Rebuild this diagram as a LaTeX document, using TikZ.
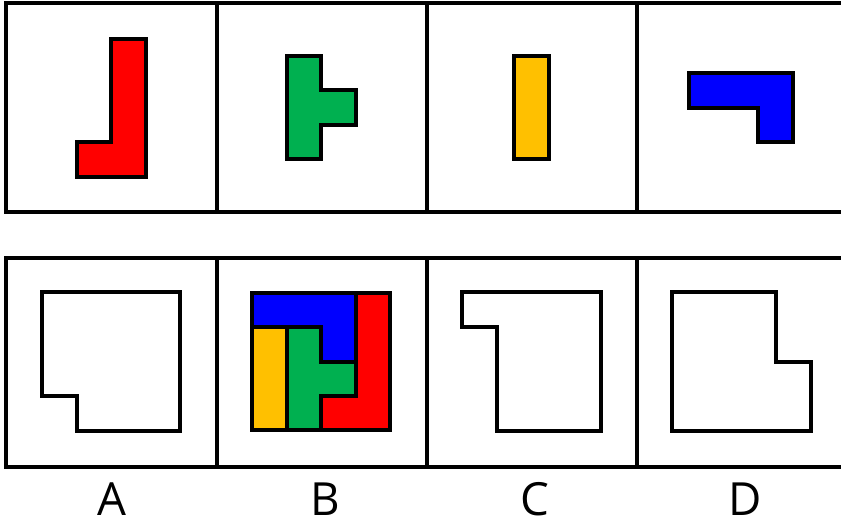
\documentclass[tikz,border=0pt]{standalone}
\usepackage{fontspec}
\setmainfont{Open Sans}
\definecolor{pcred}{RGB}{255,0,0}
\definecolor{pcgreen}{RGB}{0,176,80}
\definecolor{pcyellow}{RGB}{255,192,0}
\definecolor{pcblue}{RGB}{0,0,255}
\tikzset{
  frame/.style={line width=3pt},
  piece/.style={draw=black,line width=2.7pt,line join=miter},
  outline/.style={draw=black,line width=2.7pt,line join=miter},
  letter/.style={anchor=base,inner sep=0pt,font=\fontsize{39}{46}\selectfont}
}
\begin{document}
\begin{tikzpicture}[line cap=butt,x=0.03cm,y=-0.03cm]
	\useasboundingbox (0,0) rectangle (841,522);
	\clip (0,0) rectangle (841,522);
	\fill[white] (0,0) rectangle (841,522);
	
	% Frames
	\draw[frame] (850,3) -- (6,3) -- (6,212) -- (850,212);
	\draw[frame] (850,258) -- (6,258) -- (6,467) -- (850,467);
	\foreach \xd in {217,427,637}{
		\draw[frame] (\xd,3) -- (\xd,212);
		\draw[frame] (\xd,258) -- (\xd,467);
	}
	
	% Pieces
	\draw[piece,fill=pcred] (111,39) -- (146,39) -- (146,177) -- (77,177) -- (77,142) -- (111,142) -- cycle;
	\draw[piece,fill=pcgreen] (287,56) -- (321,56) -- (321,90) -- (356,90) -- (356,125) -- (321,125) -- (321,159) -- (287,159) -- cycle;
	\draw[piece,fill=pcyellow] (514,56) rectangle (549,159);
	\draw[piece,fill=pcblue] (689,73) -- (793,73) -- (793,142) -- (758,142) -- (758,108) -- (689,108) -- cycle;
	
	% Options
	\draw[outline] (42,292) -- (180,292) -- (180,431) -- (77,431) -- (77,396) -- (42,396) -- cycle;
	\draw[piece,fill=pcblue] (252,293) -- (356,293) -- (356,362) -- (321,362) -- (321,327) -- (252,327) -- cycle;
	\draw[piece,fill=pcred] (356,293) -- (390,293) -- (390,430) -- (321,430) -- (321,396) -- (356,396) -- cycle;
	\draw[piece,fill=pcyellow] (252,327) rectangle (287,430);
	\draw[piece,fill=pcgreen] (287,327) -- (321,327) -- (321,362) -- (356,362) -- (356,396) -- (321,396) -- (321,430) -- (287,430) -- cycle;
	\draw[outline] (462,292) -- (601,292) -- (601,431) -- (497,431) -- (497,327) -- (462,327) -- cycle;
	\draw[outline] (672,292) -- (776,292) -- (776,362) -- (811,362) -- (811,431) -- (672,431) -- cycle;
	
	% Labels
	\node[letter] (labA) at (112,515) {A};
	\node[letter] (labB) at (325,515) {B};
	\node[letter] (labC) at (535,515) {C};
	\node[letter] (labD) at (745,515) {D};
\end{tikzpicture}
\end{document}
